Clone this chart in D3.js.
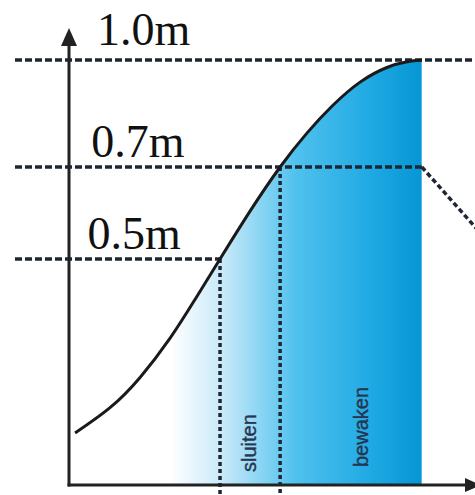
<!DOCTYPE html>
<html>
<head>
<meta charset="utf-8">
<script src="https://cdn.jsdelivr.net/npm/d3@7"></script>
<style>
  body { margin: 0; background: #fff; }
  svg { display: block; }
</style>
</head>
<body>
<script>
const w = 475;
const h = 495;

// water level marks (m) and their labels
const levels = [0.5, 0.7, 1.0];
const levelLabels = ["0.5m", "0.7m", "1.0m"];

// rising water curve: time (arbitrary units) vs height (m)
const curveTime   = [0.15, 1.01, 1.75, 2.49, 3.10, 3.72, 4.46, 5.2, 5.86, 6.5, 7.17, 7.83, 8.33, 8.69];
const curveHeight = [0.115, 0.171, 0.238, 0.325, 0.41, 0.5, 0.604, 0.7, 0.795, 0.873, 0.938, 0.979, 0.995, 1.0];

// shaded phase, start and end time
const shadeStart = 2.5;
const shadeEnd = 8.69;

// falling line after the peak
const dropTime = [8.69, 10.4];
const dropHeight = [0.7, 0.53];

// phase labels
const phaseLabels = ["sluiten", "bewaken"];

const xScale = d3.scaleLinear()
                 .domain([0, 10])
                 .range([69, 475]);

// schematic, not to scale: piecewise scale
const yScale = d3.scaleLinear()
                 .domain([0, 0.5, 0.7, 1.0])
                 .range([485, 259, 167, 60]);

const curveData = curveTime.map((t, i) => [t, curveHeight[i]]);
const timeAt = v => {
  const i = d3.bisectLeft(curveHeight, v);
  if (curveHeight[i] === v) return curveTime[i];
  const v0 = curveHeight[i-1], v1 = curveHeight[i];
  return curveTime[i-1] + (curveTime[i] - curveTime[i-1]) * (v - v0) / (v1 - v0);
};

const svg = d3.select("body")
              .append("svg")
              .attr("width", w)
              .attr("height", h);

const defs = svg.append("defs");
const grad = defs.append("linearGradient")
                 .attr("id", "blue")
                 .attr("gradientUnits", "userSpaceOnUse")
                 .attr("x1", xScale(shadeStart)).attr("x2", xScale(shadeEnd))
                 .attr("y1", 0).attr("y2", 0);
[[0, "#ffffff"], [0.22, "#c4e8f8"], [0.5, "#4fc1ee"], [0.8, "#1fa9e3"], [1, "#0596d4"]]
  .forEach(s => grad.append("stop").attr("offset", s[0]).attr("stop-color", s[1]));

// clip the shade to the area under the curve
const area = d3.area()
               .x(d => xScale(d[0]))
               .y0(yScale(0))
               .y1(d => yScale(d[1]))
               .curve(d3.curveNatural);
defs.append("clipPath")
    .attr("id", "under")
    .append("path")
    .datum(curveData)
    .attr("d", area);

svg.append("rect")
   .attr("x", xScale(shadeStart))
   .attr("y", yScale(1.0))
   .attr("width", xScale(shadeEnd) - xScale(shadeStart))
   .attr("height", yScale(0) - yScale(1.0))
   .attr("fill", "url(#blue)")
   .attr("clip-path", "url(#under)");

// phase labels
const t05 = timeAt(0.5);
const t07 = timeAt(0.7);
const labelPos = [[(xScale(t05) + xScale(t07)) / 2 + 6, 472], [(xScale(t07) + xScale(shadeEnd)) / 2 + 17, 467]];
svg.selectAll(".phase")
   .data(phaseLabels)
   .enter()
   .append("text")
   .attr("class", "phase")
   .attr("transform", (d, i) => "translate(" + labelPos[i][0] + "," + labelPos[i][1] + ") rotate(-90)")
   .attr("font-family", "Liberation Sans, Arial, sans-serif")
   .attr("font-size", 20)
   .attr("fill", "#26354f")
   .attr("stroke", "#26354f")
   .attr("stroke-width", 0.4)
   .text(d => d);

const dashColor = "#1f2633";

// horizontal level lines
const lineEnd = [t05, shadeEnd, shadeEnd + 3];
svg.selectAll(".level")
   .data(levels)
   .enter()
   .append("line")
   .attr("class", "level")
   .attr("x1", 15)
   .attr("x2", (d, i) => Math.min(xScale(lineEnd[i]), w + 5))
   .attr("y1", d => yScale(d))
   .attr("y2", d => yScale(d))
   .attr("stroke", dashColor)
   .attr("stroke-width", 3.5)
   .attr("stroke-dasharray", "7,3");

// drop line after peak
svg.append("path")
   .datum(dropTime.map((t, i) => [t, dropHeight[i]]))
   .attr("d", d3.line().x(d => xScale(d[0])).y(d => yScale(d[1])))
   .attr("fill", "none")
   .attr("stroke", dashColor)
   .attr("stroke-width", 3.5)
   .attr("stroke-dasharray", "5,3");

// vertical lines at 0.5m and 0.7m
svg.selectAll(".vert")
   .data([[t05, 0.5], [t07, 0.7]])
   .enter()
   .append("line")
   .attr("class", "vert")
   .attr("x1", d => xScale(d[0]))
   .attr("x2", d => xScale(d[0]))
   .attr("y1", d => yScale(d[1]))
   .attr("y2", h + 5)
   .attr("stroke", dashColor)
   .attr("stroke-width", 3.5)
   .attr("stroke-dasharray", "4,3");

// axes
const x0 = xScale(0), y0 = yScale(0);
svg.append("line")
   .attr("x1", x0).attr("x2", x0)
   .attr("y1", y0 + 1.5).attr("y2", 42)
   .attr("stroke", "#222").attr("stroke-width", 3);
svg.append("path")
   .attr("d", "M" + x0 + ",28 L" + (x0 - 8) + ",46 L" + (x0 + 8) + ",46 Z")
   .attr("fill", "#222");
svg.append("line")
   .attr("x1", x0 - 1.5).attr("x2", w - 8)
   .attr("y1", y0).attr("y2", y0)
   .attr("stroke", "#222").attr("stroke-width", 3);
svg.append("path")
   .attr("d", "M" + (w + 6) + "," + y0 + " L" + (w - 10) + "," + (y0 - 7) + " L" + (w - 10) + "," + (y0 + 7) + " Z")
   .attr("fill", "#222");

// the curve
svg.append("path")
   .datum(curveData)
   .attr("d", d3.line().x(d => xScale(d[0])).y(d => yScale(d[1])).curve(d3.curveNatural))
   .attr("fill", "none")
   .attr("stroke", "#1a1a1a")
   .attr("stroke-width", 3);

// level labels
svg.selectAll(".lbl")
   .data(levels)
   .enter()
   .append("text")
   .attr("class", "lbl")
   .attr("x", d => 78 + 19 * d)
   .attr("y", d => yScale(d) - (d === 1.0 ? 15 : 10))
   .attr("font-family", "Liberation Serif, Times New Roman, serif")
   .attr("font-size", 46)
   .attr("fill", "#111")
   .text((d, i) => levelLabels[i]);
</script>
</body>
</html>
